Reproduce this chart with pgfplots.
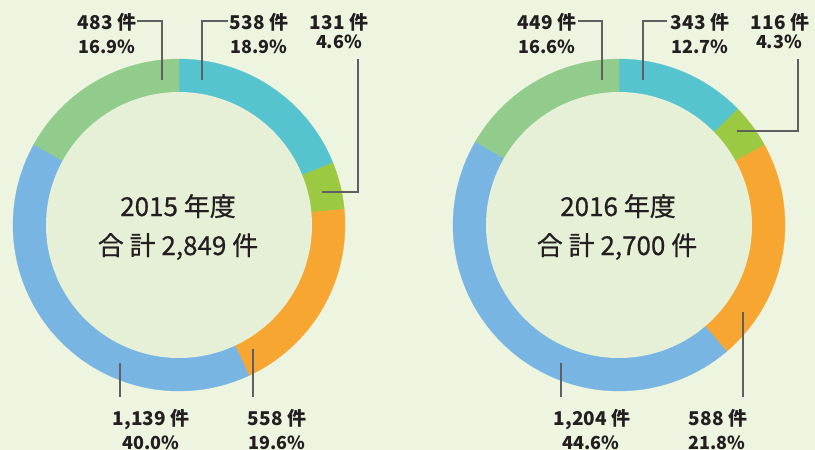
\documentclass[border=0pt]{standalone}
\usepackage{pgfplots}
\pgfplotsset{compat=1.18}
\usepackage{pgfplotstable}
\usepackage{fontspec}
\setmainfont{Noto Sans CJK JP}
\newfontfamily\ctrfont[FakeBold=0.6]{Noto Sans CJK JP}
\definecolor{bgc}{RGB}{237,245,224}
\definecolor{innerc}{RGB}{229,240,214}
\definecolor{cTeal}{RGB}{86,196,207}
\definecolor{cLime}{RGB}{155,201,66}
\definecolor{cOrange}{RGB}{248,166,50}
\definecolor{cBlue}{RGB}{120,181,227}
\definecolor{cGreen}{RGB}{145,204,141}
\definecolor{txt}{RGB}{35,31,32}
\definecolor{lead}{RGB}{95,95,95}

% counts, clockwise from the top: teal, lime, orange, blue, green
\pgfplotstableread{
year teal lime orange blue green
2015 538 131 558 1139 483
2016 343 116 588 1204 449
}\counts

\newcommand\slice[6]{% cx cy R from to colour
  \addplot[fill=#6, draw=#6, line width=0.3pt, domain=#4:#5, samples=90, variable=\t]
    ({#1+#3*cos(\t)},{#2-#3*sin(\t)}) -- (axis cs:#1,#2) -- cycle;}

\newcommand\donut[2]{% row, cx
  \pgfplotstablegetelem{#1}{teal}\of\counts \let\vA\pgfplotsretval
  \pgfplotstablegetelem{#1}{lime}\of\counts \let\vB\pgfplotsretval
  \pgfplotstablegetelem{#1}{orange}\of\counts \let\vC\pgfplotsretval
  \pgfplotstablegetelem{#1}{blue}\of\counts \let\vD\pgfplotsretval
  \pgfplotstablegetelem{#1}{green}\of\counts \let\vE\pgfplotsretval
  \pgfmathsetmacro\tot{\vA+\vB+\vC+\vD+\vE}
  \pgfmathsetmacro\aA{90}
  \pgfmathsetmacro\aB{\aA-\vA/\tot*360}
  \pgfmathsetmacro\aC{\aB-\vB/\tot*360}
  \pgfmathsetmacro\aD{\aC-\vC/\tot*360}
  \pgfmathsetmacro\aE{\aD-\vD/\tot*360}
  \pgfmathsetmacro\aF{-270}
  \slice{#2}{225}{166}{\aB}{\aA}{cTeal}
  \slice{#2}{225}{166}{\aC}{\aB}{cLime}
  \slice{#2}{225}{166}{\aD}{\aC}{cOrange}
  \slice{#2}{225}{166}{\aE}{\aD}{cBlue}
  \slice{#2}{225}{166}{\aF}{\aE}{cGreen}
  \addplot[fill=innerc, draw=none, domain=0:360, samples=180, variable=\t]
    ({#2+133*cos(\t)},{225-133*sin(\t)}) -- cycle;
}

\newcommand\cnt{\fontsize{19bp}{22bp}\selectfont\bfseries}
\newcommand\pct{\fontsize{18bp}{21bp}\selectfont\bfseries}
\newcommand\ctr{\ctrfont\fontsize{26bp}{30bp}\selectfont}

\begin{document}
\begin{tikzpicture}
\fill[bgc] (0,0) rectangle (815bp,450bp);
\begin{axis}[at={(0,0)}, anchor=south west,
  width=815bp, height=450bp, scale only axis,
  xmin=0, xmax=815, ymin=0, ymax=450, y dir=reverse,
  hide axis, clip=false]
\donut{0}{179}
\donut{1}{619}

% leader lines
\draw[lead, line width=1.1bp] (axis cs:137,21) -- (axis cs:162,21) -- (axis cs:162,80);
\draw[lead, line width=1.1bp] (axis cs:228,21) -- (axis cs:202,21) -- (axis cs:202,80);
\draw[lead, line width=1.1bp] (axis cs:358,59) -- (axis cs:358,192) -- (axis cs:322,192);
\draw[lead, line width=1.1bp] (axis cs:120,363) -- (axis cs:120,397);
\draw[lead, line width=1.1bp] (axis cs:253,349) -- (axis cs:253,397);
\draw[lead, line width=1.1bp] (axis cs:578,21) -- (axis cs:602,21) -- (axis cs:602,80);
\draw[lead, line width=1.1bp] (axis cs:667,21) -- (axis cs:643,21) -- (axis cs:643,80);
\draw[lead, line width=1.1bp] (axis cs:798,59) -- (axis cs:798,131) -- (axis cs:737,131);
\draw[lead, line width=1.1bp] (axis cs:561,363) -- (axis cs:561,397);
\draw[lead, line width=1.1bp] (axis cs:743,312) -- (axis cs:743,397);

% labels 2015
\node[txt, anchor=base, inner sep=0] at (axis cs:107,29) {\cnt 483 件};
\node[txt, anchor=base, inner sep=0] at (axis cs:107,53) {\pct 16.9\%};
\node[txt, anchor=base, inner sep=0] at (axis cs:259,29) {\cnt 538 件};
\node[txt, anchor=base, inner sep=0] at (axis cs:259,53) {\pct 18.9\%};
\node[txt, anchor=base, inner sep=0] at (axis cs:339,29) {\cnt 131 件};
\node[txt, anchor=base, inner sep=0] at (axis cs:339,48) {\pct 4.6\%};
\node[txt, anchor=base, inner sep=0] at (axis cs:151,425) {\cnt 1,139 件};
\node[txt, anchor=base, inner sep=0] at (axis cs:151,449) {\pct 40.0\%};
\node[txt, anchor=base, inner sep=0] at (axis cs:277,425) {\cnt 558 件};
\node[txt, anchor=base, inner sep=0] at (axis cs:277,449) {\pct 19.6\%};
\node[txt, anchor=base, inner sep=0] at (axis cs:178,216) {\ctr 2015 年度};
\node[txt, anchor=base, inner sep=0] at (axis cs:178,255) {\ctr 合 計 2,849 件};
% labels 2016
\node[txt, anchor=base, inner sep=0] at (axis cs:547,29) {\cnt 449 件};
\node[txt, anchor=base, inner sep=0] at (axis cs:547,53) {\pct 16.6\%};
\node[txt, anchor=base, inner sep=0] at (axis cs:700,29) {\cnt 343 件};
\node[txt, anchor=base, inner sep=0] at (axis cs:700,53) {\pct 12.7\%};
\node[txt, anchor=base, inner sep=0] at (axis cs:780,29) {\cnt 116 件};
\node[txt, anchor=base, inner sep=0] at (axis cs:779,48) {\pct 4.3\%};
\node[txt, anchor=base, inner sep=0] at (axis cs:592,425) {\cnt 1,204 件};
\node[txt, anchor=base, inner sep=0] at (axis cs:591,449) {\pct 44.6\%};
\node[txt, anchor=base, inner sep=0] at (axis cs:718,425) {\cnt 588 件};
\node[txt, anchor=base, inner sep=0] at (axis cs:717,449) {\pct 21.8\%};
\node[txt, anchor=base, inner sep=0] at (axis cs:618,216) {\ctr 2016 年度};
\node[txt, anchor=base, inner sep=0] at (axis cs:617,255) {\ctr 合 計 2,700 件};
\end{axis}
\pgfresetboundingbox
\useasboundingbox (0,0) rectangle (815bp,450bp);
\end{tikzpicture}
\end{document}
